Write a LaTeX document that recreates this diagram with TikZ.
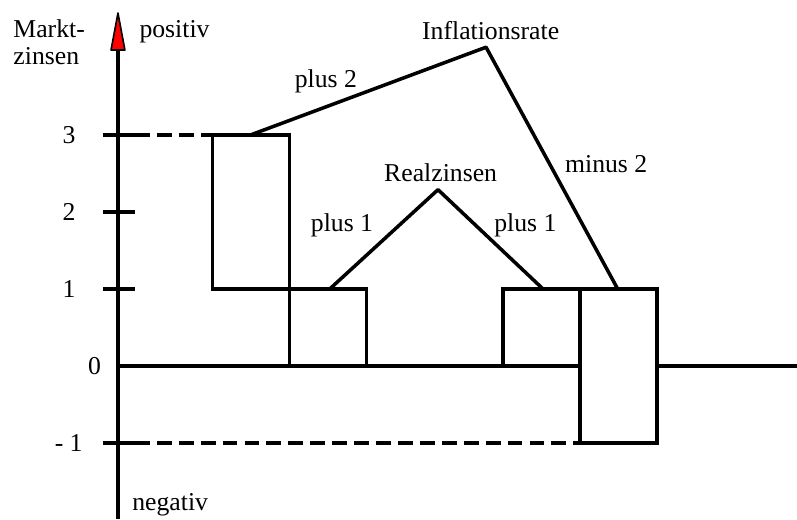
\documentclass[tikz,border=0pt]{standalone}
\usepackage{fontspec}
\setmainfont{Liberation Serif}
\usetikzlibrary{positioning,calc}

\begin{document}
\begin{tikzpicture}[
  lbl/.style={inner sep=0pt, font=\fontsize{9.5}{10.3}\selectfont},
  axisline/.style={line width=1.5pt},
  boxline/.style={line width=1.3pt},
  dashline/.style={line width=1.3pt, dash pattern=on 5.5pt off 2.6pt}]
\useasboundingbox (-1.532,-1.987) rectangle (8.818,4.753);

% Achsen
\coordinate (o) at (0,0);
\coordinate (top) at (0,4.104);
\coordinate (bot) at (0,-1.987);
\coordinate (right) at (8.818,0);
\draw[axisline] (bot) -- (top);
\draw[axisline] (o) -- (right);
\filldraw[fill=red, line width=0.6pt, line join=round] (-0.09,4.104) -- (0,4.584) -- (0.09,4.104) -- cycle;

% Skala
\foreach \y in {-1,1,2,3}
  \draw[axisline] (-0.195,\y) -- (0.22,\y);
\node[lbl] (t3) at (-0.636,3) {3};
\node[lbl] (t2) at (-0.636,2) {2};
\node[lbl] (t1) at (-0.636,1) {1};
\node[lbl] (t0) at (-0.305,0) {0};
\node[lbl] (tm1) at (-0.64,-1) {- 1};

% Beschriftung der Achse
\node[lbl, anchor=base west] (markt) at (-1.364,4.27) {Markt-};
\node[lbl, anchor=base west] (zinsen) at (-1.364,3.91) {zinsen};
\node[lbl, anchor=base west] (pos) at (0.273,4.27) {positiv};
\node[lbl, anchor=base west] (neg) at (0.18,-1.87) {negativ};

% gestrichelte Linien
\draw[dashline] (0.22,3) -- (1.23,3);
\draw[dashline] (0.22,-1) -- (6,-1);

% Kaesten
\draw[boxline, fill=white] (1.23,1) rectangle (2.23,3);
\draw[boxline, fill=white] (2.23,0) rectangle (3.23,1);
\draw[boxline, fill=white] (5,0) rectangle (6,1);
\draw[boxline, fill=white] (6,-1) rectangle (7,1);

% Inflationsrate
\coordinate (i1) at (1.72,3);
\coordinate (ip) at (4.78,4.14);
\coordinate (i2) at (6.49,1);
\draw[boxline, line join=round] (i1) -- (ip) -- (i2);
\node[lbl, anchor=base] (infl) at (4.84,4.234) {Inflationsrate};
\node[lbl, anchor=base] (p2) at (2.70,3.623) {plus 2};
\node[lbl, anchor=base] (m2) at (6.34,2.51) {minus 2};

% Realzinsen
\coordinate (r1) at (2.75,1);
\coordinate (rp) at (4.156,2.29);
\coordinate (r2) at (5.52,1);
\draw[boxline, line join=round] (r1) -- (rp) -- (r2);
\node[lbl, anchor=base] (real) at (4.19,2.40) {Realzinsen};
\node[lbl, anchor=base] (p1a) at (2.91,1.75) {plus 1};
\node[lbl, anchor=base] (p1b) at (5.29,1.75) {plus 1};
\end{tikzpicture}
\end{document}
